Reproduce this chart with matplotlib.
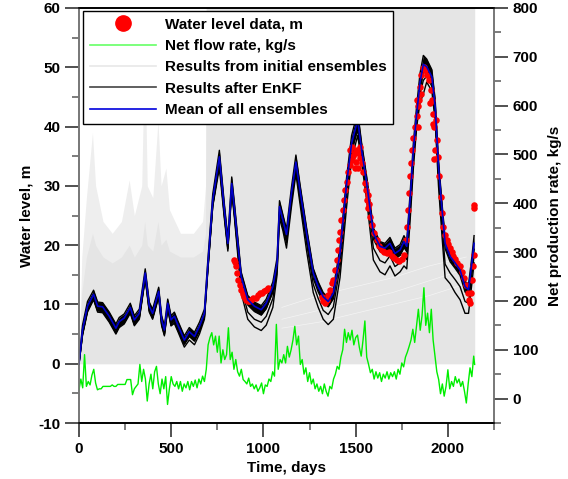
import numpy as np
import matplotlib
matplotlib.use("Agg")
import matplotlib.pyplot as plt
from matplotlib.lines import Line2D
from matplotlib.ticker import MultipleLocator

# ---- data ----
# envelope of the initial ensemble cloud (water level, m)
ens_days = [0, 15, 40, 73, 90, 130, 180, 230, 272, 300, 340, 356, 370, 400, 428, 445,
            471, 490, 550, 620, 670, 686, 690, 2145]
ens_top = [0, 18, 28, 39, 30, 24, 22, 24, 31, 25, 30, 54, 30, 28, 41, 30,
           33, 26, 22, 22, 24, 30, 60, 60]
ens_core = [0, 12, 18, 22, 20, 18, 17, 18, 20, 18, 20, 24, 20, 19, 24, 20,
            21, 19, 18, 18, 19, 22, 60, 60]

# light streaks inside the ensemble cloud
streak_days = [1100, 1300, 1500, 1700, 1900, 2100]
streak_a = [7.5, 9.0, 10.5, 12.0, 14.0, 16.0]
streak_b = [9.5, 11.5, 13.0, 14.5, 16.5, 18.0]
streak_c = [6.0, 7.0, 8.5, 10.0, 11.5, 13.5]

# EnKF results and their mean
days = [0, 19, 46, 79, 101, 128, 164, 200, 218, 245, 278, 300, 327, 359, 381, 399,
        432, 448, 463, 481, 499, 517, 535, 571, 598, 626, 653, 680, 698, 725, 761, 788,
        807, 828, 843, 879, 915, 951, 988, 1015, 1051, 1074, 1087, 1105, 1125, 1152, 1176,
        1198, 1234, 1270, 1297, 1324, 1351, 1379, 1415, 1451, 1478, 1511, 1532, 1560, 1596,
        1632, 1659, 1686, 1713, 1741, 1762, 1777, 1795, 1813, 1831, 1849, 1867, 1885, 1913,
        1931, 1949, 1967, 1985, 2012, 2039, 2066, 2093, 2112, 2130, 2142]
mean_level = [0, 5.7, 9.7, 11.7, 9.7, 9.6, 8.0, 6.0, 7.1, 7.7, 9.5, 7.4, 8.5, 15.3, 9.7, 8.5,
              12.2, 7.4, 5.7, 10.2, 7.4, 8.0, 6.6, 4.0, 5.4, 4.6, 6.3, 8.5, 16.4, 27.6, 34.9, 26.0,
              20.3, 30.4, 26.0, 14.7, 10.8, 9.7, 9.1, 10.2, 13.0, 17.0, 26.5, 24.3, 21.8, 28.8, 34.0,
              29.3, 22.0, 15.3, 13.0, 11.3, 10.5, 11.9, 18.6, 30.4, 37.2, 41.1, 36.1, 30.4, 22.0,
              19.8, 19.5, 20.3, 18.6, 19.2, 20.6, 19.8, 27.6, 36.1, 42.2, 47.5, 50.5, 50.1, 48.4,
              43.4, 33.3, 26.5, 20.3, 18.1, 17.0, 15.8, 13.0, 12.5, 17.0, 20.3]
enkf_hi = [0.3, 6.5, 10.5, 12.4, 10.4, 10.3, 8.7, 6.7, 7.8, 8.4, 10.2, 8.1, 9.2, 16.0, 10.4, 9.2,
           12.9, 8.1, 6.4, 10.9, 8.1, 8.7, 7.3, 4.7, 6.1, 5.3, 7.0, 9.2, 17.3, 28.6, 36.0, 27.0,
           21.2, 31.5, 27.0, 15.5, 11.5, 10.4, 9.8, 10.9, 13.8, 17.9, 27.5, 25.2, 22.7, 29.8, 35.2,
           30.3, 22.9, 16.1, 13.8, 12.0, 11.2, 12.7, 19.6, 31.5, 38.5, 42.5, 37.3, 31.5, 22.9,
           20.6, 20.3, 21.3, 19.5, 20.1, 21.6, 20.7, 28.7, 37.3, 43.6, 49.0, 52.0, 51.4, 49.6,
           44.6, 34.4, 27.5, 21.2, 18.9, 17.8, 16.6, 13.9, 13.4, 18.0, 21.6]
enkf_lo = [0, 5.0, 9.0, 11.0, 9.0, 8.9, 7.3, 5.3, 6.4, 7.0, 8.8, 6.7, 7.8, 14.6, 9.0, 7.8,
           11.5, 6.7, 5.0, 9.5, 6.7, 7.3, 5.9, 3.3, 4.7, 3.9, 5.6, 7.8, 15.6, 26.7, 33.9, 25.1,
           19.5, 29.5, 25.1, 13.8, 9.9, 8.8, 8.2, 9.3, 12.1, 16.2, 25.6, 23.4, 20.9, 27.9, 33.0,
           28.4, 21.1, 14.4, 12.1, 10.4, 9.6, 11.0, 17.7, 29.4, 36.0, 39.8, 35.0, 29.4, 21.0,
           18.9, 18.6, 19.4, 17.7, 18.3, 19.6, 18.9, 26.6, 35.0, 41.0, 46.2, 49.2, 48.9, 47.2,
           42.3, 32.3, 25.6, 19.4, 17.2, 16.1, 14.9, 12.1, 11.6, 16.1, 19.3]
enkf_low1 = [0, 4.8, 8.7, 10.8, 8.7, 8.6, 7.0, 5.0, 6.1, 6.7, 8.5, 6.4, 7.5, 14.3, 8.7, 7.5,
             11.2, 6.4, 4.7, 9.2, 6.4, 7.0, 5.7, 3.3, 4.6, 3.8, 5.6, 8.0, 15.8, 26.6, 33.8, 25.0,
             19.4, 29.4, 24.9, 13.0, 8.7, 7.5, 7.0, 8.0, 11.0, 15.8, 25.2, 23.0, 20.4, 27.4, 32.7,
             27.8, 20.3, 13.4, 11.0, 9.0, 8.3, 9.6, 16.2, 28.3, 35.6, 39.5, 34.8, 28.6, 19.5,
             17.4, 17.0, 18.2, 16.4, 17.0, 18.3, 17.6, 25.5, 34.3, 40.8, 45.5, 47.8, 48.5, 46.8,
             41.8, 31.3, 23.8, 16.8, 15.3, 14.2, 13.0, 10.5, 10.2, 15.0, 18.3]
enkf_low2 = [0, 4.9, 8.9, 10.9, 8.9, 8.8, 7.2, 5.2, 6.3, 6.9, 8.7, 6.6, 7.7, 14.5, 8.9, 7.7,
             11.4, 6.6, 4.9, 9.4, 6.4, 6.8, 5.5, 2.8, 4.0, 3.2, 5.0, 7.5, 15.5, 26.5, 33.0, 24.5,
             19.0, 29.0, 24.5, 12.0, 7.5, 6.2, 5.6, 6.5, 9.5, 15.0, 24.5, 22.5, 19.5, 26.5, 32.0,
             27.0, 19.0, 12.0, 9.5, 7.5, 6.6, 7.5, 14.5, 26.5, 34.5, 38.5, 34.0, 27.5, 17.5,
             15.5, 15.0, 16.5, 14.8, 15.5, 16.5, 16.0, 24.0, 33.0, 40.0, 44.0, 45.5, 47.5, 46.0,
             41.0, 30.0, 22.0, 14.5, 13.5, 12.0, 10.8, 8.5, 8.5, 13.5, 17.0]

# observed water level
obs_days = [840, 846, 852, 857, 864, 872, 879, 888, 897, 906, 915, 924, 933, 946, 957, 969,
            980, 991, 1002, 1013, 1024,
            1315, 1324, 1333, 1342, 1351, 1360, 1370, 1379, 1388, 1397, 1402, 1409, 1415, 1422,
            1429, 1437, 1444, 1451, 1460, 1469, 1478, 1487, 1496, 1505, 1514, 1523, 1532, 1541,
            1551, 1556, 1563, 1569, 1578, 1587, 1599, 1614, 1628, 1641, 1654, 1668, 1683, 1695,
            1708, 1722, 1735, 1750, 1762, 1773, 1780, 1786, 1789, 1793, 1799, 1806, 1813, 1822,
            1831, 1840, 1846, 1849, 1856, 1864, 1871, 1878, 1885, 1896, 1907, 1914, 1922, 1927,
            1936, 1943, 1949, 1954, 1960, 1967, 1976, 1985, 1994, 2003, 2012, 2021, 2030, 2039,
            2052, 2066, 2079, 2090, 2099, 2108, 2115, 2121, 2126, 2132, 2137, 2141, 2142, 2142,
            1470, 1480, 1500, 1515, 1525, 1495, 1565, 1575, 1835, 1840, 1853, 1905, 1918, 1930,
            1925]
obs_level = [17.5, 17.2, 16.4, 15.3, 14.1, 13.3, 12.5, 11.7, 11.2, 10.8, 10.5, 10.5, 10.8, 11.1,
             11.1, 11.6, 11.9, 12.0, 12.2, 12.5, 12.7,
             11.3, 10.5, 10.2, 10.8, 11.6, 12.5, 13.6, 14.1, 15.8, 17.5, 19.2, 20.9, 22.3, 24.3,
             25.9, 27.6, 29.3, 30.7, 32.4, 33.5, 34.4, 35.0, 35.5, 36.1, 35.5, 34.7, 33.8, 32.4,
             30.4, 29.3, 27.6, 26.2, 24.8, 23.4, 22.0, 20.9, 19.8, 19.2, 18.9, 18.6, 18.9, 18.2,
             17.8, 17.5, 17.4, 17.6, 18.4, 20.9, 23.1, 25.9, 28.8, 31.6, 33.8, 36.1, 38.0, 40.0,
             41.7, 43.4, 44.5, 46.7, 48.7, 49.8, 50.1, 49.6, 48.7, 47.9, 46.2, 44.5, 42.2, 40.0,
             41.1, 37.7, 34.9, 31.6, 28.2, 25.4, 23.1, 21.7, 20.9, 20.2, 19.5, 18.9, 18.2, 17.6,
             17.0, 16.4, 15.5, 14.4, 13.3, 11.9, 10.8, 10.2, 11.9, 14.1, 16.4, 18.4, 26.8, 26.2,
             36.0, 36.6, 34.0, 33.0, 36.6, 33.0, 28.5, 27.0, 44.5, 40.0, 45.5, 44.0, 40.5, 36.0,
             34.5]

# net flow rate (right axis, kg/s), one reading every 10 days
flow_days = list(range(0, 2150, 10)) + [2145]
flow_rate = [18, 40, 22, 90, 25, 35, 28, 48, 60, 32, 18,
             20, 20, 25, 25, 25, 25, 25, 28, 25, 25,
             29, 29, 29, 29, 29, 39, 39, 39, 8, 20,
             25, 30, 70, 35, 60, 40, -5, 30, 50, 20,
             55, 66, 30, 10, 40, 20, 45, -12, 20, 45,
             30, 25, 35, 20, 35, 15, 30, 22, 35, 18,
             35, 25, 38, 22, 40, 30, 46, 35, 60, 110,
             125, 135, 110, 128, 95, 128, 73, 100, 80, 90,
             145, 80, 95, 60, 80, 55, 46, 60, 39, 35,
             30, 42, 25, 30, 20, 28, 15, 22, 32, 10,
             28, 25, 40, 35, 55, 46, 152, 60, 80, 73,
             90, 73, 107, 85, 100, 120, 148, 110, 128, 70,
             80, 50, 63, 35, 53, 30, 40, 20, 30, 15,
             25, 10, 30, 15, 5, 25, 20, 40, 50, 66,
             60, 85, 100, 142, 115, 135, 120, 140, 110, 125,
             130, 105, 87, 120, 159, 85, 70, 53, 60, 40,
             55, 42, 53, 35, 50, 42, 55, 40, 53, 45,
             55, 40, 60, 50, 73, 65, 85, 95, 107, 120,
             142, 115, 150, 183, 140, 170, 227, 150, 175, 135,
             183, 120, 87, 55, 39, 10, 30, 5, 25, 59,
             20, 35, 25, 45, 32, 40, 25, 35, 15, -9,
             30, 63, 45, 87, 70]

plt.rcParams['font.family'] = ['Liberation Sans', 'DejaVu Sans']
plt.rcParams['font.weight'] = 'bold'
plt.rcParams['font.size'] = 11
plt.rcParams['axes.unicode_minus'] = False

fig = plt.figure(figsize=(5.68, 4.79), dpi=100)
ax = fig.add_axes([0.1391, 0.1169, 0.7306, 0.8664])

# initial ensembles as a grey cloud
ax.fill_between(ens_days, 0, ens_top, color='#eeeeee', lw=0, zorder=1)
ax.fill_between(ens_days, 0, ens_core, color='#e5e5e5', lw=0, zorder=1)
for s in (streak_a, streak_b, streak_c):
    ax.plot(streak_days, s, color='white', lw=0.5, alpha=0.6, zorder=2)

# EnKF results
for member in (enkf_hi, enkf_lo, enkf_low1, enkf_low2):
    ax.plot(days, member, color='black', lw=1.0, zorder=3)
ax.fill_between(days, enkf_lo, enkf_hi, color='black', lw=0, zorder=3)
ax.scatter(obs_days, obs_level, s=22, color='red', lw=0, zorder=4)
ax.plot(days, mean_level, color='#0000cc', lw=1.2, zorder=5)

ax.set_xlim(0, 2250)
ax.set_ylim(-10, 60)
ax.xaxis.set_major_locator(MultipleLocator(500))
ax.xaxis.set_minor_locator(MultipleLocator(250))
ax.yaxis.set_major_locator(MultipleLocator(10))
ax.yaxis.set_minor_locator(MultipleLocator(5))
ax.tick_params(which='major', direction='out', length=10, width=1.2, colors='#333333',
               labelcolor='black', labelsize=11)
ax.tick_params(which='minor', direction='out', length=5, width=1.2, colors='#666666')
ax.set_xlabel('Time, days', fontsize=11, fontweight='bold', labelpad=4)
ax.set_ylabel('Water level, m', fontsize=11, fontweight='bold', labelpad=3)

# net flow rate on the right axis
ax2 = ax.twinx()
ax2.plot(flow_days, flow_rate, color='#00ee00', lw=1.0, zorder=2)
ax2.set_ylim(-50, 800)
ax2.yaxis.set_major_locator(MultipleLocator(100))
ax2.yaxis.set_minor_locator(MultipleLocator(50))
ax2.tick_params(which='major', direction='out', length=10, width=1.2, colors='#333333',
                labelcolor='black', labelsize=11)
ax2.tick_params(which='minor', direction='out', length=5, width=1.2, colors='#666666')
ax2.set_ylabel('Net production rate, kg/s', fontsize=11, fontweight='bold',
               rotation=90, labelpad=7)

for a in (ax, ax2):
    a.spines['top'].set_color('black')
    a.spines['bottom'].set_color('black')
    a.spines['left'].set_color('#777777')
    a.spines['right'].set_color('#777777')
    for sp in a.spines.values():
        sp.set_linewidth(1.2)

handles = [
    Line2D([], [], ls='none', marker='o', color='red', markersize=11),
    Line2D([], [], color='#66ff66', lw=1.2),
    Line2D([], [], color='#e8e8e8', lw=1.2),
    Line2D([], [], color='#444444', lw=1.2),
    Line2D([], [], color='#0000dd', lw=1.2),
]
labels = ['Water level data, m', 'Net flow rate, kg/s', 'Results from initial ensembles',
          'Results after EnKF', 'Mean of all ensembles']
leg = ax2.legend(handles, labels, loc='upper left', bbox_to_anchor=(0.0096, 0.993),
                 borderaxespad=0, frameon=True, fancybox=False, edgecolor='black',
                 framealpha=1, handlelength=4.3, handletextpad=0.6, labelspacing=0.48,
                 borderpad=0.45, prop={'family': 'Liberation Sans', 'weight': 'bold', 'size': 11})
leg.get_frame().set_linewidth(1.0)

fig.savefig('out.png', dpi=100)
